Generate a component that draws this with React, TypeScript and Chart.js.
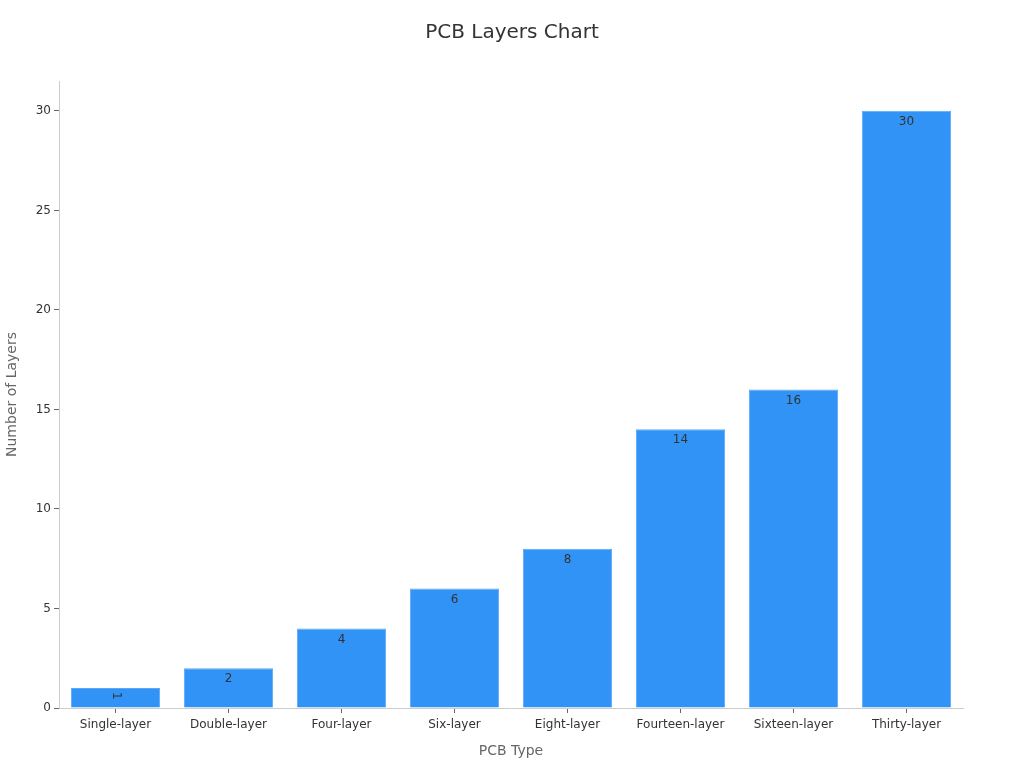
import React, { useEffect, useRef } from "react";
import { Chart, registerables } from "chart.js";

Chart.register(...registerables);

const categories = [
  "Single-layer",
  "Double-layer",
  "Four-layer",
  "Six-layer",
  "Eight-layer",
  "Fourteen-layer",
  "Sixteen-layer",
  "Thirty-layer",
];
const layerCounts = [1, 2, 4, 6, 8, 14, 16, 30];
const yTickStep = 5;
const yMax = 31.5;

const FONT = "'DejaVu Sans', sans-serif";

const barLabelPlugin = {
  id: "barLabels",
  afterDatasetsDraw(chart: any) {
    const ctx = chart.ctx;
    const meta = chart.getDatasetMeta(0);
    const data = chart.data.datasets[0].data as number[];
    ctx.save();
    ctx.fillStyle = "#333333";
    ctx.font = `12px ${FONT}`;
    ctx.textAlign = "center";
    ctx.textBaseline = "middle";
    meta.data.forEach((bar: any, i: number) => {
      const h = bar.base - bar.y;
      const text = String(data[i]);
      if (h < 24) {
        ctx.save();
        ctx.translate(bar.x + 1, (bar.y + bar.base) / 2 - 2);
        ctx.rotate(Math.PI / 2);
        ctx.fillText(text, 0, 0);
        ctx.restore();
      } else {
        ctx.fillText(text, bar.x, bar.y + 11);
      }
    });
    ctx.restore();
  },
};

export default function App() {
  const ref = useRef<HTMLCanvasElement | null>(null);

  useEffect(() => {
    document.body.style.margin = "0";
    if (!ref.current) return;
    const chart = new Chart(ref.current, {
      type: "bar",
      data: {
        labels: categories,
        datasets: [
          {
            label: "Number of Layers",
            data: layerCounts,
            backgroundColor: "#3193f5",
            borderColor: "#5aa9f7",
            borderWidth: 1,
            categoryPercentage: 1,
            barPercentage: 0.79,
          },
        ],
      },
      options: {
        animation: false,
        responsive: false,
        maintainAspectRatio: false,
        layout: { padding: { left: 0, right: 0, top: 0, bottom: 0 } },
        plugins: {
          legend: { display: false },
          tooltip: { enabled: false },
          title: {
            display: true,
            text: "PCB Layers Chart",
            color: "#333333",
            font: { family: FONT, size: 20, weight: "normal" },
            padding: { top: 21, bottom: 36 },
          },
        },
        scales: {
          x: {
            grid: {
              drawOnChartArea: false,
              drawTicks: true,
              tickLength: 5,
              color: "#666666",
              offset: false,
            },
            border: { display: true, color: "#cccccc" },
            ticks: {
              color: "#333333",
              font: { family: FONT, size: 12 },
              padding: 5,
              maxRotation: 0,
              autoSkip: false,
            },
            title: {
              display: true,
              text: "PCB Type",
              color: "#666666",
              font: { family: FONT, size: 14 },
              padding: { top: 12, bottom: 8 },
            },
            afterFit(scale: any) {
              scale.height = 60;
            },
          },
          y: {
            min: 0,
            max: yMax,
            grid: {
              drawOnChartArea: false,
              drawTicks: true,
              tickLength: 5,
              color: "#666666",
            },
            border: { display: true, color: "#cccccc" },
            ticks: {
              stepSize: yTickStep,
              includeBounds: false,
              color: "#333333",
              font: { family: FONT, size: 12 },
              padding: 3,
            },
            title: {
              display: true,
              text: "Number of Layers",
              color: "#666666",
              font: { family: FONT, size: 14 },
              padding: { top: 4, bottom: 12 },
            },
            afterFit(scale: any) {
              scale.width = 59;
            },
          },
          yRight: {
            position: "right",
            display: true,
            grid: { display: false, drawTicks: false },
            border: { display: false },
            ticks: { display: false },
            afterFit(scale: any) {
              scale.width = 61;
            },
          },
        },
      },
      plugins: [barLabelPlugin],
    });
    return () => chart.destroy();
  }, []);

  return (
    <div style={{ width: 1024, height: 768 }}>
      <canvas ref={ref} width={1024} height={768} style={{ display: "block" }} />
    </div>
  );
}
